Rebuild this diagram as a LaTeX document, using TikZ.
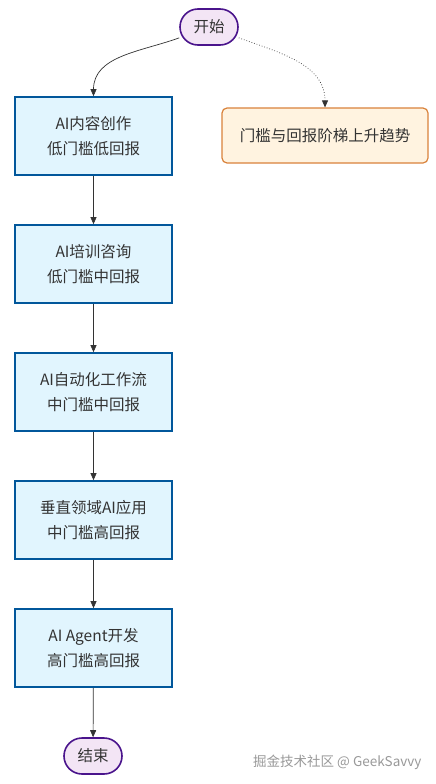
\documentclass[tikz,border=0pt]{standalone}
\usepackage{fontspec}
\setmainfont{Noto Sans CJK SC}
\usetikzlibrary{arrows.meta}

\definecolor{txt}{HTML}{333333}
\definecolor{termfill}{HTML}{F3E5F5}
\definecolor{termline}{HTML}{4A148C}
\definecolor{stepfill}{HTML}{E1F5FE}
\definecolor{stepline}{HTML}{01579B}
\definecolor{notefill}{HTML}{FFF3E0}
\definecolor{noteline}{HTML}{D9823B}

\tikzset{
	terminal/.style={draw=termline,fill=termfill,line width=1.6pt,rounded corners=18pt,
		minimum width=58pt,minimum height=36pt,text=txt,font=\fontsize{15.5pt}{18pt}\selectfont},
	stage/.style={draw=stepline,fill=stepfill,line width=1.6pt,minimum width=157pt,
		minimum height=78pt,align=center,text=txt,font=\fontsize{15.5pt}{25pt}\selectfont},
	note/.style={draw=noteline,fill=notefill,line width=1.2pt,rounded corners=5pt,
		minimum width=206pt,minimum height=55pt,text=txt,font=\fontsize{15.5pt}{18pt}\selectfont},
	flow/.style={draw=txt,line width=0.7pt,-{Triangle[length=7pt,width=6pt]}},
	hint/.style={flow,dotted},
}

\begin{document}
\begin{tikzpicture}[x=1pt,y=-1pt]
	\useasboundingbox[fill=white] (0,0) rectangle (436,784);
	% terminals
	\node[terminal] (start) at (209,27) {开始};
	\node[terminal] (stop) at (93,756) {结束};
	% stages
	\node[stage] (content) at (93.5,136) {AI内容创作\\低门槛低回报};
	\node[stage] (training) at (93.5,264) {AI培训咨询\\低门槛中回报};
	\node[stage] (workflow) at (93.5,392) {AI自动化工作流\\中门槛中回报};
	\node[stage] (vertical) at (93.5,520) {垂直领域AI应用\\中门槛高回报};
	\node[stage] (agent) at (93.5,648) {AI Agent开发\\高门槛高回报};
	% trend note
	\node[note] (trend) at (325,135.5) {门槛与回报阶梯上升趋势};
	% connectors
	\draw[flow] (start) to[out=200,in=90] (content);
	\draw[hint] (start) to[out=-20,in=90] (trend);
	\draw[flow] (content) -- (training);
	\draw[flow] (training) -- (workflow);
	\draw[flow] (workflow) -- (vertical);
	\draw[flow] (vertical) -- (agent);
	\draw[flow] (agent) -- (stop);
	% watermark
	\node[anchor=east,text=black!40,font=\fontsize{13.5pt}{15pt}\selectfont] (mark) at (425,762) {掘金技术社区 @ GeekSavvy};
\end{tikzpicture}
\end{document}
